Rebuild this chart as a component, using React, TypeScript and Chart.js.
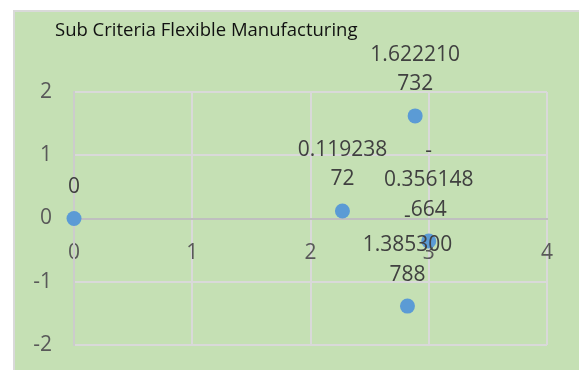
import React, { useEffect, useRef } from "react";
import { Chart, registerables } from "chart.js";

Chart.register(...registerables);

const chartTitle = "Sub Criteria Flexible Manufacturing";
const xValues = [0, 2.27, 2.82, 2.885, 3.0];
const yValues = [0, 0.11923872, -1.385300788, 1.622210732, -0.356148664];
const xRange = [0, 4];
const yRange = [-2, 2];
const tickStep = 1;

const FONT = '"Open Sans", "Noto Sans", sans-serif';

function wrapLabel(v: number): string[] {
  let rest = String(v);
  const lines: string[] = [];
  if (rest.startsWith("-")) {
    lines.push("-");
    rest = rest.slice(1);
  }
  while (rest.length > 8) {
    lines.push(rest.slice(0, 8));
    rest = rest.slice(8);
  }
  lines.push(rest);
  return lines;
}

const bgPlugin = {
  id: "bgPlugin",
  beforeDraw(chart: any) {
    const ctx = chart.ctx;
    ctx.save();
    ctx.fillStyle = "#c5e0b4";
    ctx.fillRect(15, 12, chart.width - 15, chart.height - 12);
    ctx.strokeStyle = "#d9d9d9";
    ctx.lineWidth = 2;
    ctx.beginPath();
    ctx.moveTo(14, chart.height);
    ctx.lineTo(14, 11);
    ctx.lineTo(chart.width, 11);
    ctx.stroke();
    ctx.fillStyle = "#111111";
    ctx.font = `18.5px ${FONT}`;
    ctx.textBaseline = "middle";
    ctx.textAlign = "left";
    ctx.fillText(chartTitle, 55, 31);
    ctx.restore();
  },
};

const labelPlugin = {
  id: "labelPlugin",
  afterDatasetsDraw(chart: any) {
    const ctx = chart.ctx;
    const meta = chart.getDatasetMeta(0);
    ctx.save();
    ctx.fillStyle = "#404040";
    ctx.font = `21px ${FONT}`;
    ctx.textAlign = "center";
    ctx.textBaseline = "middle";
    meta.data.forEach((el: any, i: number) => {
      const lines = wrapLabel(yValues[i]);
      const n = lines.length;
      lines.forEach((line, j) => {
        ctx.fillText(line, el.x, el.y - 31.5 - (n - 1 - j) * 29.5);
      });
    });
    ctx.restore();
  },
};

export default function App() {
  const ref = useRef<HTMLCanvasElement | null>(null);
  useEffect(() => {
    if (!ref.current) return;
    const chart = new Chart(ref.current, {
      type: "scatter",
      data: {
        datasets: [
          {
            data: xValues.map((x, i) => ({ x, y: yValues[i] })),
            backgroundColor: "#5b9bd5",
            borderColor: "#5b9bd5",
            borderWidth: 0,
            pointRadius: 7.5,
            pointHoverRadius: 7.5,
            clip: false,
          } as any,
        ],
      },
      options: {
        animation: false,
        responsive: false,
        devicePixelRatio: 1,
        layout: { padding: { left: 15, right: 32, top: 92, bottom: 25 } },
        plugins: {
          legend: { display: false },
          title: { display: false },
          tooltip: { enabled: false },
        },
        scales: {
          x: {
            type: "linear",
            min: xRange[0],
            max: xRange[1],
            position: { y: 0 } as any,
            ticks: {
              stepSize: tickStep,
              color: "#595959",
              font: { family: FONT, size: 21 },
              padding: 22,
            },
            grid: { color: "#d9d9d9", lineWidth: 2, drawTicks: false },
            border: { color: "#bfbfbf", width: 2 },
          },
          y: {
            type: "linear",
            min: yRange[0],
            max: yRange[1],
            afterFit: (s: any) => {
              s.width = 59;
            },
            ticks: {
              stepSize: tickStep,
              color: "#595959",
              font: { family: FONT, size: 21 },
              padding: 0,
            },
            grid: {
              color: (c: any) => (c.tick && c.tick.value === 0 ? "#bfbfbf" : "#d9d9d9"),
              lineWidth: 2,
              drawTicks: true,
              tickLength: 22,
              tickColor: "rgba(0,0,0,0)",
            },
            border: { color: "#cccccc", width: 2 },
          },
        },
      },
      plugins: [bgPlugin, labelPlugin],
    });
    return () => chart.destroy();
  }, []);
  return (
    <div style={{ position: "fixed", left: 0, top: 0, width: 579, height: 370 }}>
      <canvas ref={ref} width={579} height={370} />
    </div>
  );
}
